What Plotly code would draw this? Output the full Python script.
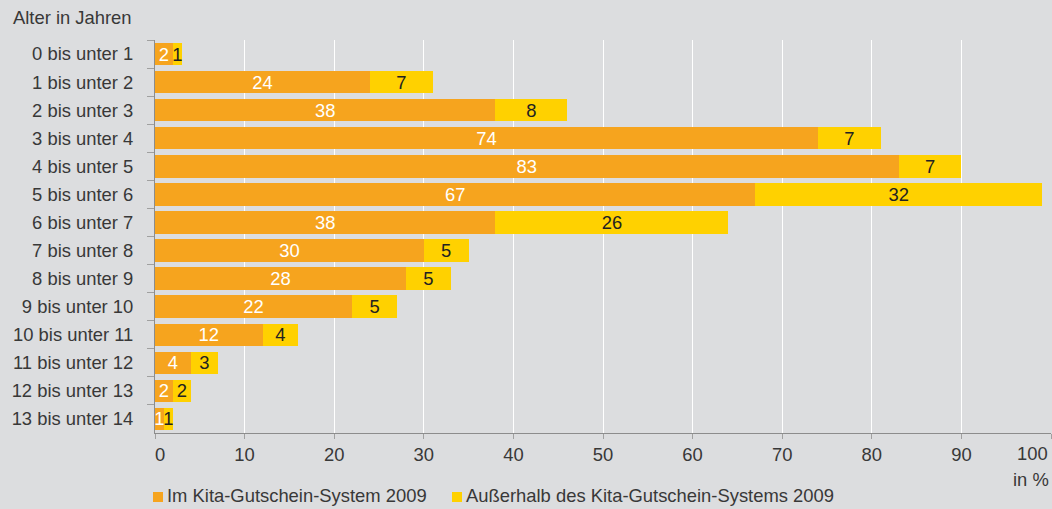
import plotly.graph_objects as go

categories = ["0 bis unter 1", "1 bis unter 2", "2 bis unter 3", "3 bis unter 4",
              "4 bis unter 5", "5 bis unter 6", "6 bis unter 7", "7 bis unter 8",
              "8 bis unter 9", "9 bis unter 10", "10 bis unter 11", "11 bis unter 12",
              "12 bis unter 13", "13 bis unter 14"]
im_system = [2, 24, 38, 74, 83, 67, 38, 30, 28, 22, 12, 4, 2, 1]
ausserhalb = [1, 7, 8, 7, 7, 32, 26, 5, 5, 5, 4, 3, 2, 1]
x_ticks = [0, 10, 20, 30, 40, 50, 60, 70, 80, 90, 100]
x_ticklabels = ["0", "10", "20", "30", "40", "50", "60", "70", "80", "90", "100"]
series_names = ["Im Kita-Gutschein-System 2009", "Außerhalb des Kita-Gutschein-Systems 2009"]

ORANGE = "#f6a41e"
YELLOW = "#ffd100"
BG = "#dcdddf"
TXT = "#383838"
FONT = "Liberation Sans"
FS = 18.4

W, H = 1052, 509
ML, MR, MT, MB = 155, 1, 40, 76
PW, PH = W - ML - MR, H - MT - MB


def px_x(px):
    return (px - ML) / PW


def px_y(py):
    return (H - MB - py) / PH


# first label nudged right, last one drawn as annotation so it stays inside the page
ticktext = ["\u00a0\u00a0" + x_ticklabels[0]] + x_ticklabels[1:-1] + [""]

fig = go.Figure()
fig.add_trace(go.Bar(
    y=categories, x=im_system, orientation="h", name=series_names[0],
    marker=dict(color=ORANGE, line=dict(width=0)),
    text=[str(v) for v in im_system], textposition="inside", textangle=0,
    insidetextanchor="middle",
    textfont=dict(color="white", size=FS, family=FONT),
))
fig.add_trace(go.Bar(
    y=categories, x=ausserhalb, orientation="h", name=series_names[1],
    marker=dict(color=YELLOW, line=dict(width=0)),
    text=[str(v) for v in ausserhalb], textposition="inside", textangle=0,
    insidetextanchor="middle",
    textfont=dict(color="#222222", size=FS, family=FONT),
))

# manual legend (squares + text)
legend_items = [(153, 166, ORANGE, series_names[0]), (452, 465, YELLOW, series_names[1])]
shapes = []
annotations = []
for sx, tx, col, name in legend_items:
    shapes.append(dict(type="rect", xref="paper", yref="paper",
                       x0=px_x(sx), x1=px_x(sx + 10), y0=px_y(502), y1=px_y(492),
                       fillcolor=col, line=dict(width=0)))
    annotations.append(dict(text=name, x=px_x(tx), y=px_y(495), xref="paper", yref="paper",
                            xanchor="left", yanchor="middle", showarrow=False,
                            borderpad=0, font=dict(size=FS, color=TXT)))

annotations.append(dict(text="Alter in Jahren", x=px_x(12), y=px_y(17), xref="paper", yref="paper",
                        xanchor="left", yanchor="middle", showarrow=False, borderpad=0,
                        font=dict(size=FS, color=TXT)))
annotations.append(dict(text="in %", x=px_x(1050), y=px_y(479), xref="paper", yref="paper",
                        xanchor="right", yanchor="middle", showarrow=False, borderpad=0,
                        font=dict(size=FS, color=TXT)))
annotations.append(dict(text=x_ticklabels[-1], x=x_ticks[-1], xref="x", y=px_y(453), yref="paper",
                        xanchor="right", yanchor="middle", xshift=-2, showarrow=False, borderpad=0,
                        font=dict(size=FS, color=TXT)))

fig.update_layout(
    width=W, height=H,
    barmode="stack", bargap=0.2,
    paper_bgcolor=BG, plot_bgcolor=BG,
    margin=dict(l=ML, r=MR, t=MT, b=MB),
    font=dict(family=FONT, size=FS, color=TXT),
    uniformtext=dict(minsize=FS, mode="show"),
    showlegend=False,
    xaxis=dict(range=[0, 100], tickvals=x_ticks, ticktext=ticktext,
               showgrid=True, gridcolor="white",
               gridwidth=1, zeroline=False, showline=True, linecolor="#8c8c8c",
               ticks="outside", ticklen=5, tickcolor="#a0a0a0", automargin=False,
               tickfont=dict(size=FS, color=TXT), fixedrange=True),
    yaxis=dict(autorange="reversed", showgrid=False, showline=True, linecolor="#8c8c8c",
               ticks="outside", tickson="boundaries", ticklen=7, tickcolor="#a0a0a0",
               automargin=False, ticklabelstandoff=17, fixedrange=True,
               tickfont=dict(size=FS, color=TXT)),
    shapes=shapes,
    annotations=annotations,
)

fig.write_html("out.html", config={"displayModeBar": False, "staticPlot": True},
               post_script="document.body.style.margin='0';document.body.style.padding='0';document.body.style.overflow='hidden';")
